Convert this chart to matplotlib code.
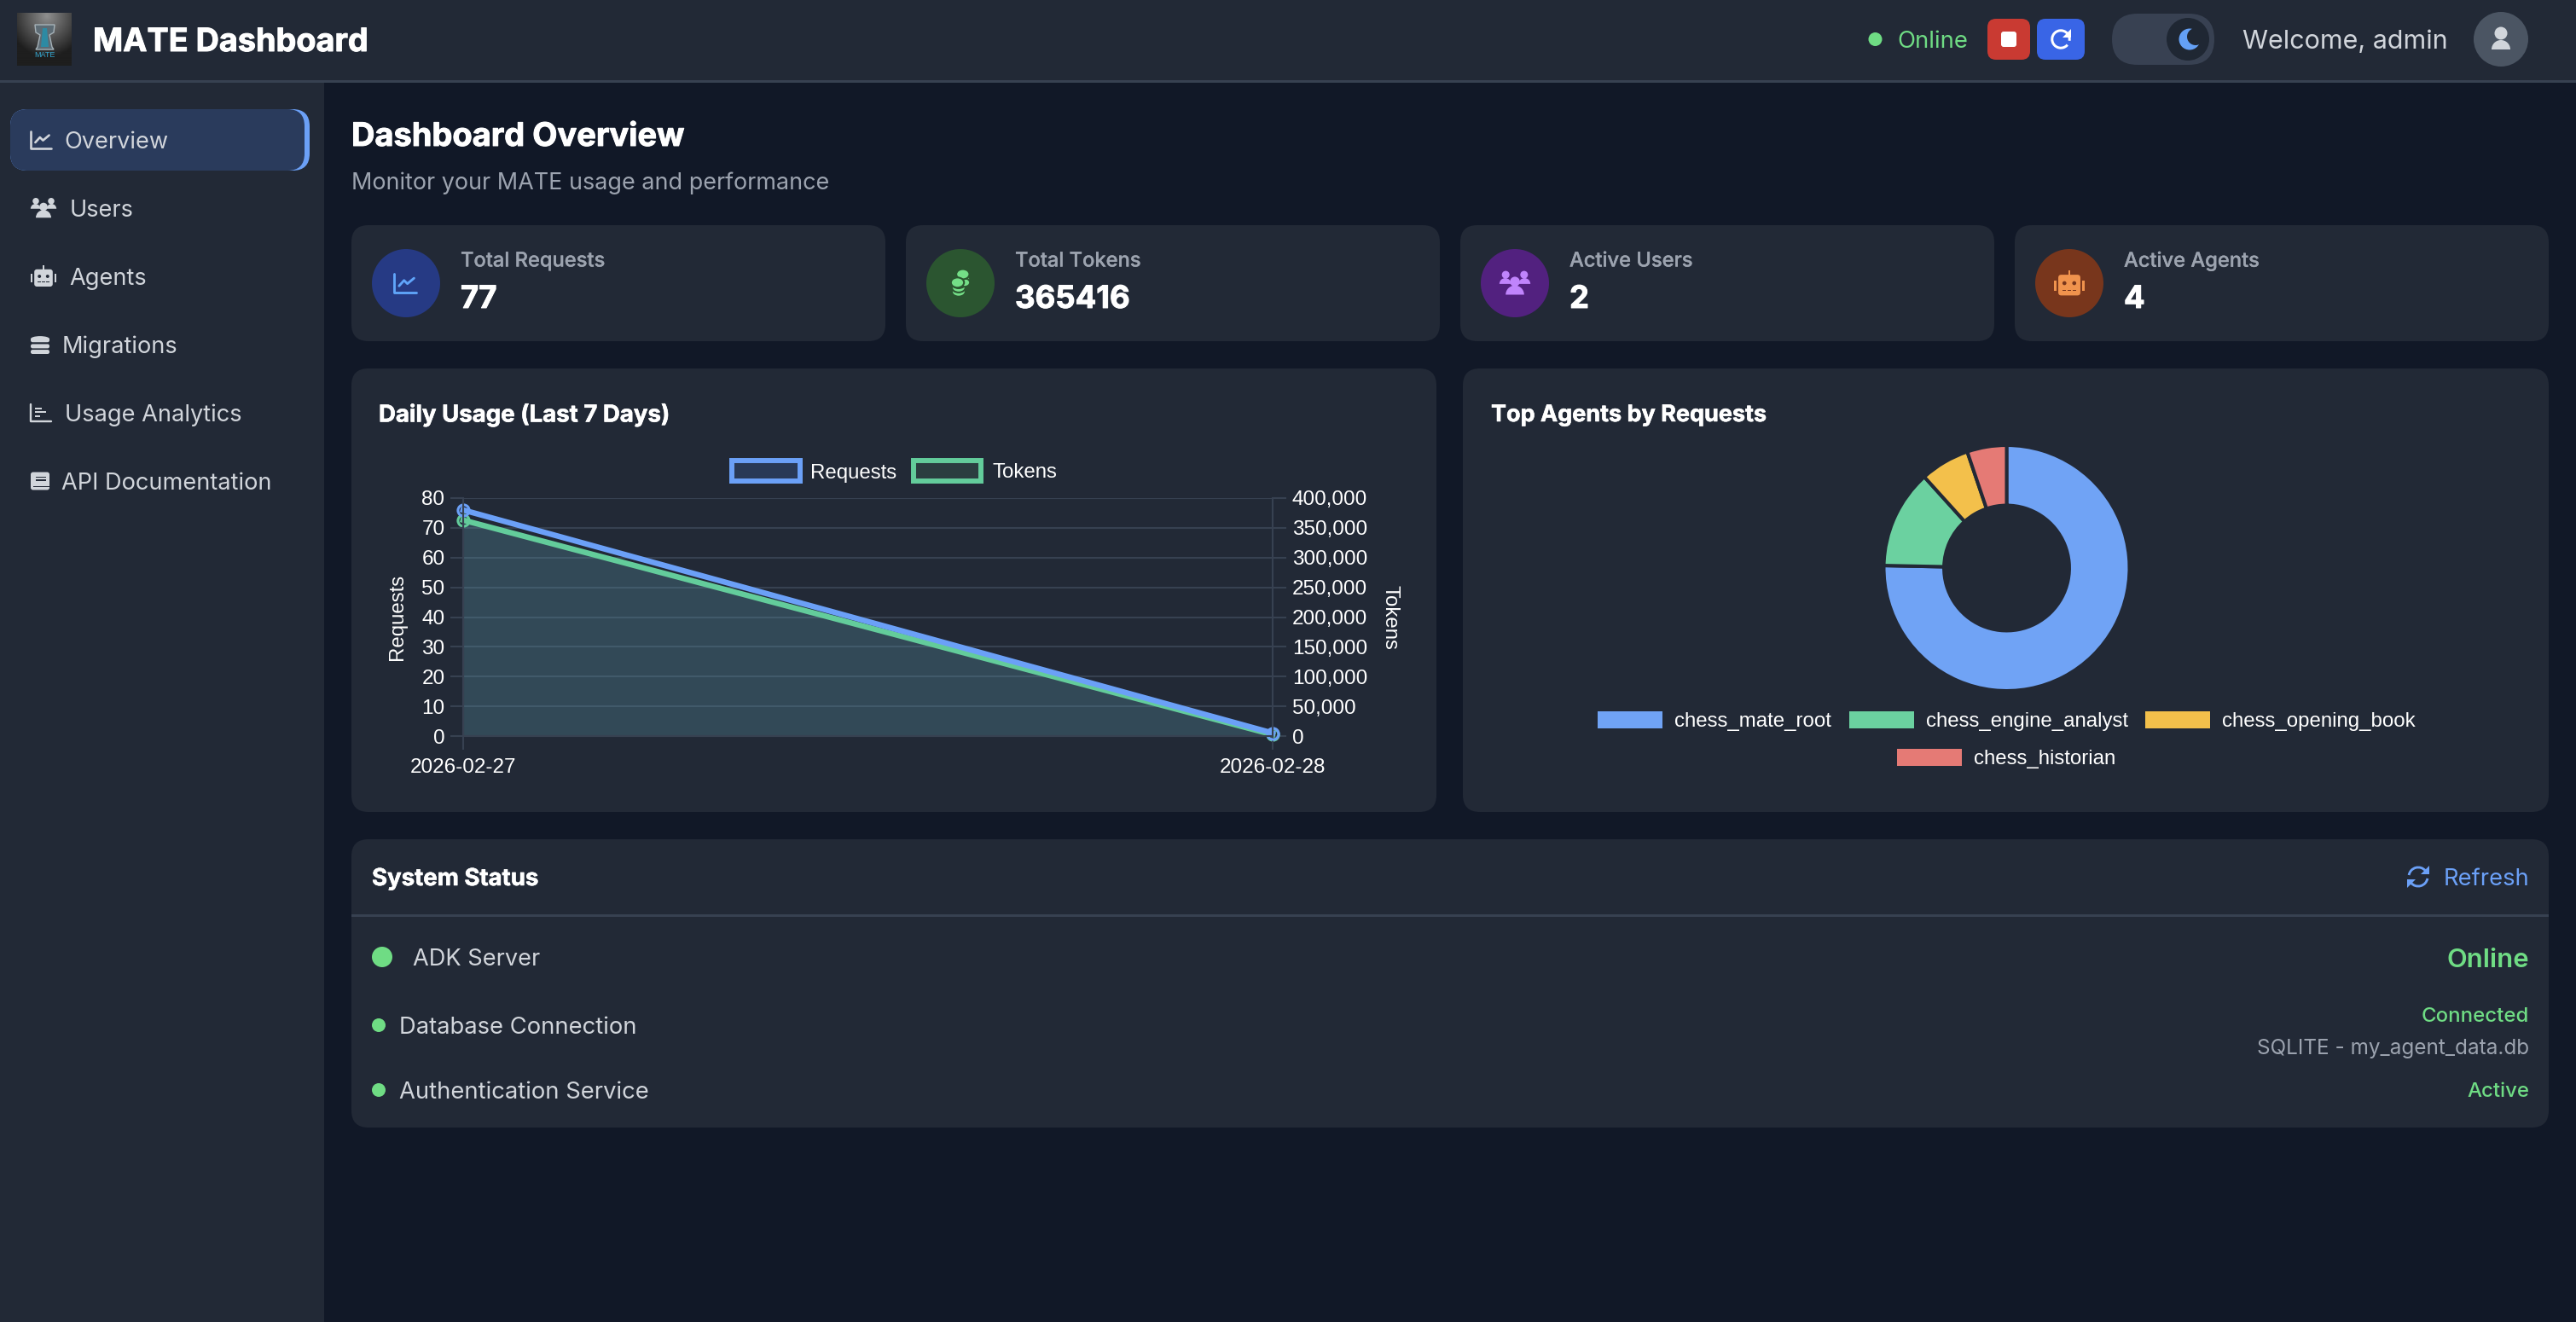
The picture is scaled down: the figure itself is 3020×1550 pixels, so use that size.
import numpy as np
import matplotlib
matplotlib.use("Agg")
import matplotlib.pyplot as plt
import matplotlib.patheffects as pe
from matplotlib.patches import FancyBboxPatch, Circle, Wedge, Rectangle, Polygon, Ellipse, Arc
from matplotlib.ticker import FuncFormatter

# chart data
dates = ["2026-02-27", "2026-02-28"]
requests = [76, 1]
tokens = [363000, 2416]
request_ticks = [0, 10, 20, 30, 40, 50, 60, 70, 80]
token_ticks = [0, 50000, 100000, 150000, 200000, 250000, 300000, 350000, 400000]

agents = ["chess_mate_root", "chess_engine_analyst", "chess_opening_book", "chess_historian"]
agent_requests = [58, 10, 5, 4]
agent_colors = ["#70a3f5", "#6bd1a0", "#f3c04b", "#e57a75"]

stat_labels = ["Total Requests", "Total Tokens", "Active Users", "Active Agents"]
stat_values = ["77", "365416", "2", "4"]

nav_items = ["Overview", "Users", "Agents", "Migrations", "Usage Analytics", "API Documentation"]

BG = "#111827"
CARD = "#222936"
LINE = "#374151"
BLUE = "#6ba0f7"
GREEN = "#63cc9b"
ONLINE = "#6fdc84"
UI_FONT = ["Inter", "Noto Sans", "DejaVu Sans"]
CHART_FONT = ["Liberation Sans", "DejaVu Sans"]

W, H = 3020, 1550
fig = plt.figure(figsize=(W / 100, H / 100), dpi=100, facecolor=BG)
bg = fig.add_axes([0, 0, 1, 1], zorder=0)
bg.set_xlim(0, W)
bg.set_ylim(H, 0)
bg.axis("off")


def box(x0, y0, x1, y1, color, r=20, z=1):
    p = FancyBboxPatch((x0 + r, y0 + r), x1 - x0 - 2 * r, y1 - y0 - 2 * r,
                       boxstyle=f"round,pad={r},rounding_size={r}", fc=color, ec="none", zorder=z)
    bg.add_patch(p)


def rect(x0, y0, x1, y1, color, z=1):
    bg.add_patch(Rectangle((x0, y0), x1 - x0, y1 - y0, fc=color, ec="none", zorder=z))


def dot(x, y, r, color, z=3):
    bg.add_patch(Circle((x, y), r, fc=color, ec="none", zorder=z))


def txt(x, y, s, px, color, weight="normal", ha="left", font=UI_FONT, heavy=0):
    t = bg.text(x, y, s, fontsize=px * 0.72, color=color, fontweight=weight, ha=ha, va="center_baseline",
                family=font, zorder=5)
    if heavy:
        t.set_path_effects([pe.withStroke(linewidth=heavy, foreground=color)])


def poly_line(xs, ys, color, lw):
    bg.plot(xs, ys, color=color, lw=lw * 0.72, solid_capstyle="round", solid_joinstyle="round", zorder=4)


# icons, s is half of the icon width
def icon_chart(x, y, s, c):
    poly_line([x - s, x - s, x + s], [y - s * 0.85, y + s * 0.85, y + s * 0.85], c, s * 0.22)
    poly_line([x - s * 0.55, x - s * 0.1, x + s * 0.2, x + s * 0.8],
              [y + s * 0.25, y - s * 0.25, y + s * 0.05, y - s * 0.45], c, s * 0.22)


def icon_users(x, y, s, c):
    for dx, dy, r in [(-0.6, -0.55, 0.25), (0.6, -0.55, 0.25)]:
        dot(x + dx * s, y + dy * s, r * s, c, 4)
        bg.add_patch(Wedge((x + dx * s * 1.05, y + 0.05 * s), 0.38 * s, 180, 360, fc=c, ec="none", zorder=4))
    dot(x, y - 0.1 * s, 0.32 * s, c, 4)
    bg.add_patch(Wedge((x, y + 0.75 * s), 0.6 * s, 180, 360, fc=c, ec="none", zorder=4))


def icon_robot(x, y, s, c, bgc):
    box(x - 0.72 * s, y - 0.55 * s, x + 0.72 * s, y + 0.8 * s, c, r=0.2 * s, z=4)
    rect(x - 1.0 * s, y - 0.18 * s, x - 0.85 * s, y + 0.5 * s, c, 4)
    rect(x + 0.85 * s, y - 0.18 * s, x + 1.0 * s, y + 0.5 * s, c, 4)
    rect(x - 0.06 * s, y - 0.85 * s, x + 0.06 * s, y - 0.5 * s, c, 4)
    dot(x - 0.32 * s, y, 0.13 * s, bgc, 5)
    dot(x + 0.32 * s, y, 0.13 * s, bgc, 5)
    for dx in (-0.35, 0, 0.35):
        rect(x + (dx - 0.12) * s, y + 0.42 * s, x + (dx + 0.12) * s, y + 0.5 * s, bgc, 5)


def icon_database(x, y, s, c):
    for dy in (-0.7, -0.05, 0.55):
        box(x - s, y + dy * s, x + s, y + (dy + 0.45) * s, c, r=0.2 * s, z=4)
    bg.add_patch(Ellipse((x, y - 0.6 * s), 2 * s, 0.6 * s, fc=c, ec="none", zorder=4))


def icon_bars(x, y, s, c):
    poly_line([x - s, x - s, x + s], [y - s * 0.85, y + s * 0.85, y + s * 0.85], c, s * 0.2)
    for dy, w in [(-0.45, 0.7), (-0.05, 1.1), (0.35, 0.5)]:
        rect(x - s * 0.6, y + (dy - 0.09) * s, x - s * 0.6 + w * s, y + (dy + 0.09) * s, c, 4)


def icon_book(x, y, s, c, bgc):
    box(x - s, y - s * 0.95, x + s, y + s * 0.95, c, r=0.25 * s, z=4)
    rect(x - 0.5 * s, y - 0.5 * s, x + 0.6 * s, y - 0.35 * s, bgc, 5)
    rect(x - 0.5 * s, y - 0.15 * s, x + 0.6 * s, y, bgc, 5)
    rect(x - 0.75 * s, y + 0.5 * s, x + 1.0 * s, y + 0.62 * s, bgc, 5)


def icon_coins(x, y, s, c, bgc):
    for dy in (0.7, 0.35, 0.0):
        bg.add_patch(Ellipse((x - 0.15 * s, y + dy * s), 1.15 * s, 0.85 * s, fc=c, ec=bgc, lw=1.5, zorder=4))
    for dy in (-0.35, -0.05):
        bg.add_patch(Ellipse((x + 0.35 * s, y + dy * s), 0.9 * s, 0.7 * s, fc=c, ec=bgc, lw=1.5, zorder=4))
    bg.add_patch(Ellipse((x + 0.2 * s, y - 0.75 * s), 1.1 * s, 0.85 * s, fc=c, ec=bgc, lw=1.5, zorder=5))
    bg.add_patch(Ellipse((x - 0.25 * s, y - 0.05 * s), 1.1 * s, 0.85 * s, fc=c, ec=bgc, lw=1.5, zorder=5))


def icon_redo(x, y, s, c):
    bg.add_patch(Arc((x, y), 1.7 * s, 1.7 * s, theta1=-320, theta2=10, ec=c, lw=s * 0.25 * 0.72, zorder=5))
    bg.add_patch(Polygon([(x + s, y - s), (x + s, y - 0.15 * s), (x + 0.15 * s, y - 0.15 * s)], fc=c, ec="none", zorder=5))


def icon_sync(x, y, s, c):
    bg.add_patch(Arc((x, y), 1.7 * s, 1.7 * s, theta1=190, theta2=320, ec=c, lw=s * 0.22 * 0.72, zorder=5))
    bg.add_patch(Arc((x, y), 1.7 * s, 1.7 * s, theta1=10, theta2=140, ec=c, lw=s * 0.22 * 0.72, zorder=5))
    bg.add_patch(Polygon([(x + s, y - s), (x + s, y - 0.2 * s), (x + 0.25 * s, y - 0.2 * s)], fc=c, ec="none", zorder=5))
    bg.add_patch(Polygon([(x - s, y + s), (x - s, y + 0.2 * s), (x - 0.25 * s, y + 0.2 * s)], fc=c, ec="none", zorder=5))


# page areas
rect(0, 0, W, 94, CARD)
rect(0, 94, W, 96.5, LINE, 2)
rect(0, 96, 380, H, CARD)

# logo
yy, xx = np.mgrid[0:1:60j, 0:1:64j]
shade = np.clip(0.56 - 0.62 * np.hypot(xx - 0.55, (yy - 0.05) * 0.9), 0.12, 0.56)
bg.imshow(shade, extent=(20, 84, 77, 15), cmap="gray", vmin=0, vmax=1, aspect="auto", zorder=2)
bg.set_xlim(0, W)
bg.set_ylim(H, 0)
bg.add_patch(Polygon([(41, 29), (64, 29), (63, 38), (58, 41), (61, 55), (63, 58), (42, 58), (44, 55), (47, 41), (42, 38)],
                     fc="#5d6b74", ec="#a6b2b8", lw=1, zorder=3))
bg.add_patch(Polygon([(50, 33), (55, 33), (57, 55), (48, 55)], fc="#2d8aa3", ec="none", zorder=3))
bg.text(52.5, 64.5, "MATE", fontsize=6.5, color="#35a7d0", ha="center", va="center", family=CHART_FONT, zorder=4)

txt(109, 46, "MATE Dashboard", 37.8, "white", "bold", heavy=0.7)

# header right side
dot(2198.5, 46, 8, ONLINE)
txt(2224, 46, "Online", 27.5, ONLINE)
box(2330, 22, 2380, 70, "#c93a32", r=10, z=2)
box(2346, 37, 2364, 55, "white", r=3, z=3)
box(2388, 22, 2444, 70, "#3965e6", r=10, z=2)
icon_redo(2416, 46, 12, "white")
box(2476, 16, 2596, 76, "#384152", r=30, z=2)
dot(2565, 46, 25, "#1f2733")
dot(2567, 46, 12.5, "#64a0f5", 4)
dot(2574, 43, 10, "#1f2733", 4)
txt(2629, 46, "Welcome, admin", 30.5, "#d1d5db")
dot(2932, 46, 32, "#4b5563")
dot(2932, 39, 7.5, "#d1d5db", 4)
bg.add_patch(Wedge((2932, 58), 11, 180, 360, fc="#d1d5db", ec="none", zorder=4))

# sidebar
box(12, 128, 363, 200, BLUE, r=20, z=2)
box(12, 128, 357, 200, "#2a3b5c", r=20, z=3)
nav_y = [164, 244, 324, 404, 484, 564]
nav_x = [75.5, 81.5, 81.5, 72.5, 75.5, 72.5]
for i, item in enumerate(nav_items):
    txt(nav_x[i], nav_y[i], item, 27.2, "#d1d5db")
icon_chart(48, nav_y[0], 12, "#d1d5db")
icon_users(51, nav_y[1], 15, "#d1d5db")
icon_robot(51, nav_y[2], 15, "#d1d5db", CARD)
icon_database(47, nav_y[3], 11, "#d1d5db")
icon_bars(48, nav_y[4], 12, "#d1d5db")
icon_book(47, nav_y[5], 11, "#d1d5db", CARD)

# page title
txt(412, 157, "Dashboard Overview", 38, "white", "bold", heavy=0.7)
txt(412, 212, "Monitor your MATE usage and performance", 27, "#9ca3af")

# stat cards
card_x = [412, 1062, 1712, 2362]
circle_colors = ["#263a84", "#2b5530", "#52217f", "#78361c"]
icon_colors = ["#60a5fa", "#74de87", "#c084fc", "#f0934d"]
for i in range(4):
    box(card_x[i], 264, card_x[i] + 626, 400, CARD, r=20, z=1)
    dot(card_x[i] + 64, 332, 40, circle_colors[i])
    txt(card_x[i] + 128, 304, stat_labels[i], 23.7, "#9ca3af", "medium", heavy=0.2)
    txt(card_x[i] + 128, 348, stat_values[i], 36.5, "white", "bold", heavy=0.7)
icon_chart(card_x[0] + 63, 332, 13, icon_colors[0])
icon_coins(card_x[1] + 64, 332, 14, icon_colors[1], circle_colors[1])
icon_users(card_x[2] + 64, 332, 18, icon_colors[2])
icon_robot(card_x[3] + 64, 332, 18, icon_colors[3], circle_colors[3])

# chart cards
box(412, 432, 1684, 952, CARD, r=20, z=1)
box(1715, 432, 2988, 952, CARD, r=20, z=1)
txt(444, 484, "Daily Usage (Last 7 Days)", 27.6, "white", "bold", heavy=0.4)
txt(1748, 484, "Top Agents by Requests", 27, "white", "bold", heavy=0.4)

# line chart
ax = fig.add_axes([543 / W, 1 - 863 / H, (1492 - 543) / W, (863 - 584) / H], zorder=2)
ax.patch.set_visible(False)
ax_tok = ax.twinx()
ax.set_zorder(3)
ax_tok.set_zorder(2)
ax_tok.patch.set_visible(False)

x_pos = np.arange(len(dates))
ax_tok.grid(axis="y", color=LINE, lw=1.5, zorder=0)
ax_tok.set_axisbelow(True)
ax_tok.fill_between(x_pos, tokens, 0, color=(90 / 255, 148 / 255, 165 / 255), alpha=0.3, lw=0, zorder=1)
ax_tok.plot(x_pos, tokens, color=GREEN, lw=4.7, marker="o", ms=9.5, mew=2.2, mfc="none", clip_on=False, zorder=2)
ax.plot(x_pos, requests, color=BLUE, lw=4.7, marker="o", ms=9.5, mew=2.2, mfc="none", clip_on=False)

ax.set_xlim(0, 1)
ax.set_ylim(0, 80)
ax_tok.set_ylim(0, 400000)
ax.set_xticks(x_pos)
ax.set_xticklabels(dates)
ax.set_yticks(request_ticks)
ax_tok.set_yticks(token_ticks)
ax_tok.yaxis.set_major_formatter(FuncFormatter(lambda v, _: f"{int(v):,}"))
ax.tick_params(axis="y", length=11, width=1.5, color=LINE, labelcolor="white", labelsize=17.5, pad=4.5)
ax.tick_params(axis="x", length=11.5, width=1.5, color=LINE, labelcolor="white", labelsize=17.5, pad=7.5)
ax_tok.tick_params(axis="y", length=11.5, width=1.5, color=LINE, labelcolor="white", labelsize=17.5, pad=5)
for a in (ax, ax_tok):
    for name, sp in a.spines.items():
        sp.set_color(LINE)
        sp.set_linewidth(1.5)
    a.spines["top"].set_visible(False)
    for lab in a.get_xticklabels() + a.get_yticklabels():
        lab.set_family(CHART_FONT)
ax.set_ylabel("Requests", color="white", fontsize=17.3, family=CHART_FONT, va="center")
ax.yaxis.set_label_coords((466 - 543) / 949, 0.5)
ax_tok.set_ylabel("Tokens", color="white", fontsize=17.3, family=CHART_FONT, rotation=-90, va="center")
ax_tok.yaxis.set_label_coords((1629 - 543) / 949, 0.5)

# line chart legend
for x0, x1, edge, fill, tx, name in [(855, 941, BLUE, "#293956", 950, "Requests"), (1068, 1153, GREEN, "#2b3d40", 1163, "Tokens")]:
    bg.add_patch(Rectangle((x0 + 3, 540), x1 - x0 - 6, 24, fc=fill, ec=edge, lw=4.3, zorder=3, joinstyle="miter"))
    txt(tx, 552, name, 24, "white", font=CHART_FONT)

# donut chart
cx, cy, rad = 2352.5, 666, 144
ax_pie = fig.add_axes([(cx - rad) / W, 1 - (cy + rad) / H, 2 * rad / W, 2 * rad / H], zorder=2)
ax_pie.pie(agent_requests, colors=agent_colors, startangle=90, counterclock=False,
           wedgeprops=dict(width=0.49, edgecolor=CARD, linewidth=2.9))
ax_pie.set_xlim(-1, 1)
ax_pie.set_ylim(-1, 1)
ax_pie.patch.set_visible(False)

# donut legend
legend_x = [1872.5, 2168, 2515, 2224]
legend_y = [844, 844, 844, 888]
for i, name in enumerate(agents):
    rect(legend_x[i], legend_y[i] - 10, legend_x[i] + 76, legend_y[i] + 10, agent_colors[i], 3)
    txt(legend_x[i] + 90, legend_y[i] - 0.5, name, 24, "white", font=CHART_FONT)

# system status
box(412, 984, 2988, 1322, CARD, r=20, z=1)
rect(412, 1072, 2988, 1074.5, LINE, 2)
txt(436, 1028, "System Status", 27.6, "white", "bold", heavy=0.4)
txt(2965, 1028, "Refresh", 27.4, BLUE, ha="right")
icon_sync(2835, 1028, 13, BLUE)

dot(448, 1122, 12, ONLINE)
txt(484, 1122, "ADK Server", 27.2, "#d1d5db")
txt(2965, 1123, "Online", 31, ONLINE, "semibold", ha="right")
dot(444, 1202, 8, ONLINE)
txt(468, 1202, "Database Connection", 27.4, "#d1d5db")
txt(2965, 1190, "Connected", 24, ONLINE, "medium", ha="right")
txt(2965, 1227, "SQLITE - my_agent_data.db", 24.3, "#9ca3af", ha="right")
dot(444, 1278, 8, ONLINE)
txt(468, 1278, "Authentication Service", 27.4, "#d1d5db")
txt(2965, 1278, "Active", 24, ONLINE, "medium", ha="right")

fig.savefig("out.png", dpi=100, facecolor=BG)
